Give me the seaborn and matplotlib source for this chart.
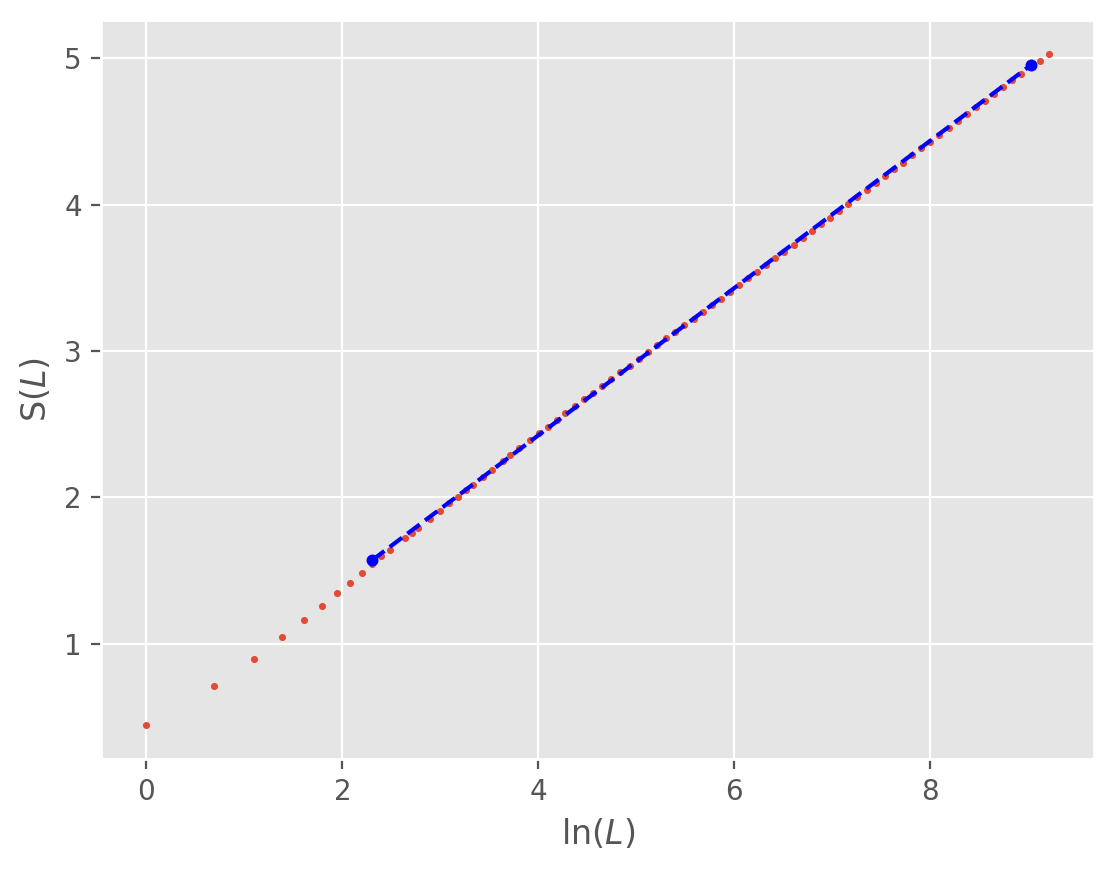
import numpy as np
import matplotlib
matplotlib.use("Agg")
import matplotlib.pyplot as plt
import seaborn as sns

# system sizes L (x axis shows ln L)
sizes = [1, 2, 3, 4, 5, 6, 7, 8, 9, 10, 11, 12, 14, 15, 16, 18, 20, 22, 24, 26,
         28, 31, 34, 38, 41, 45, 50, 55, 60, 66, 72, 79, 87, 95, 105, 115, 126,
         139, 152, 167, 183, 201, 221, 242, 266, 292, 320, 351, 385, 423, 464,
         509, 559, 614, 673, 739, 811, 890, 977, 1072, 1177, 1292, 1417, 1556,
         1707, 1874, 2057, 2257, 2477, 2719, 2984, 3275, 3594, 3944, 4329, 4751,
         5214, 5722, 6280, 6893, 7565, 8302, 9112, 10000]

# entropy S(L)
entropy = [0.445, 0.711, 0.896, 1.046, 1.162, 1.257, 1.346, 1.414, 1.483, 1.544,
           1.597, 1.638, 1.724, 1.758, 1.794, 1.853, 1.910, 1.961, 2.006, 2.049,
           2.086, 2.137, 2.187, 2.248, 2.288, 2.338, 2.391, 2.440, 2.479, 2.527,
           2.575, 2.624, 2.670, 2.714, 2.764, 2.811, 2.855, 2.901, 2.948, 2.996,
           3.040, 3.087, 3.131, 3.177, 3.220, 3.268, 3.313, 3.357, 3.402, 3.451,
           3.497, 3.541, 3.587, 3.634, 3.676, 3.723, 3.770, 3.817, 3.866, 3.912,
           3.959, 4.007, 4.051, 4.100, 4.147, 4.195, 4.241, 4.288, 4.336, 4.385,
           4.430, 4.478, 4.525, 4.573, 4.620, 4.664, 4.711, 4.757, 4.805, 4.851,
           4.896, 4.943, 4.984, 5.032]

# linear fit shown between these sizes
fit_sizes = [10, 8302]
fit_entropy = [1.571, 4.952]

plt.style.use("ggplot")

fig, ax = plt.subplots(figsize=(5.57, 4.355), dpi=200)
fig.subplots_adjust(left=0.091, right=0.982, bottom=0.129, top=0.977)

sns.scatterplot(x=np.log(sizes), y=entropy, ax=ax, color="#E24A33",
                s=6.5, linewidth=0, zorder=2)
sns.lineplot(x=np.log(fit_sizes), y=fit_entropy, ax=ax, color="blue",
             linestyle="--", marker="o", markersize=4.3, markeredgewidth=0,
             linewidth=1.5, zorder=3)

ax.set_xlabel(r"ln($L$)")
ax.set_ylabel(r"S($L$)")

fig.savefig("out.png", dpi=200)
